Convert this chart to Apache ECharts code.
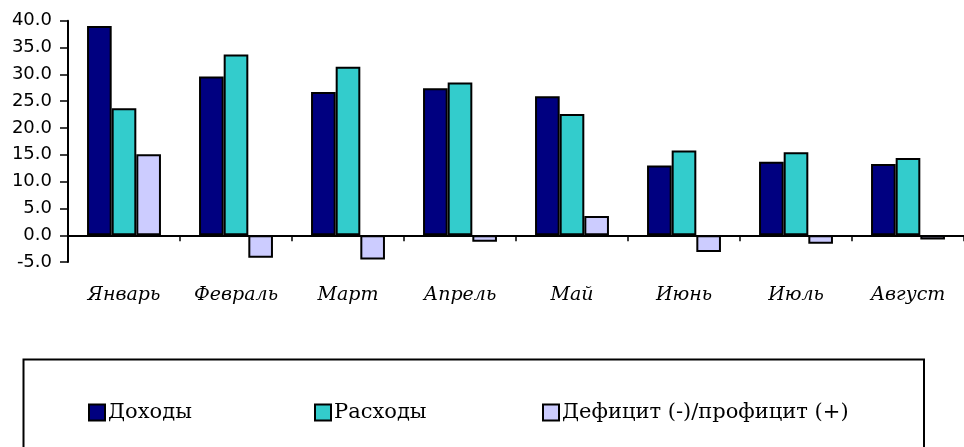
<!DOCTYPE html>
<html>
<head>
<meta charset="utf-8">
<script src="https://cdn.jsdelivr.net/npm/echarts@6/dist/echarts.min.js"></script>
<style>
  html, body { margin: 0; padding: 0; background: #fff; }
  #chart { width: 964px; height: 447px; }
</style>
</head>
<body>
<div id="chart"></div>
<script>
const months = ["Январь", "Февраль", "Март", "Апрель", "Май", "Июнь", "Июль", "Август"];
const income = [39.0, 29.6, 26.7, 27.4, 25.9, 13.0, 13.7, 13.3];
const expense = [23.7, 33.7, 31.4, 28.5, 22.6, 15.8, 15.5, 14.4];
const balance = [15.1, -4.2, -4.5, -1.2, 3.6, -3.1, -1.6, -0.8];
const names = ["Доходы", "Расходы", "Дефицит (-)/профицит (+)"];
const colors = ["#000080", "#33CCCC", "#CCCCFF"];

let chart = echarts.init(document.getElementById("chart"));

let legendLefts = [83, 309, 537];
let legends = names.map((n, i) => ({
  data: [n],
  left: legendLefts[i],
  top: 397,
  icon: "rect",
  itemWidth: 16,
  itemHeight: 16,
  itemGap: 4,
  textStyle: {
    fontFamily: "DejaVu Serif",
    fontSize: 21,
    color: "#000",
    padding: [0, 0, 0, -2]
  }
}));

let barSeries = [income, expense, balance].map((d, i) => ({
  name: names[i],
  type: "bar",
  barGap: "0%",
  barCategoryGap: "34%",
  itemStyle: {
    color: colors[i],
    borderColor: "#000",
    borderWidth: 2
  },
  data: d
}));

chart.setOption({
  animation: false,
  grid: { left: 68, top: 20.7, width: 898, height: 241.4 },
  legend: legends,
  graphic: [
    {
      type: "rect",
      shape: { x: 23.5, y: 359.5, width: 900.5, height: 120 },
      style: { fill: null, stroke: "#000", lineWidth: 2 }
    }
  ],
  xAxis: {
    type: "category",
    data: months,
    axisLine: { onZero: true, lineStyle: { color: "#000", width: 2 } },
    axisTick: { show: true, length: 6, lineStyle: { color: "#000", width: 1.5 } },
    axisLabel: {
      margin: 23,
      fontFamily: "DejaVu Serif",
      fontStyle: "italic",
      fontSize: 19,
      color: "#000"
    }
  },
  yAxis: {
    type: "value",
    min: -5,
    max: 40,
    interval: 5,
    splitLine: { show: false },
    axisLine: { show: true, lineStyle: { color: "#000", width: 2 } },
    axisTick: { show: true, length: 8, lineStyle: { color: "#000", width: 1.5 } },
    axisLabel: {
      margin: 16,
      fontFamily: "DejaVu Sans",
      fontSize: 18,
      color: "#000",
      formatter: v => v.toFixed(1)
    }
  },
  series: barSeries
});
</script>
</body>
</html>
